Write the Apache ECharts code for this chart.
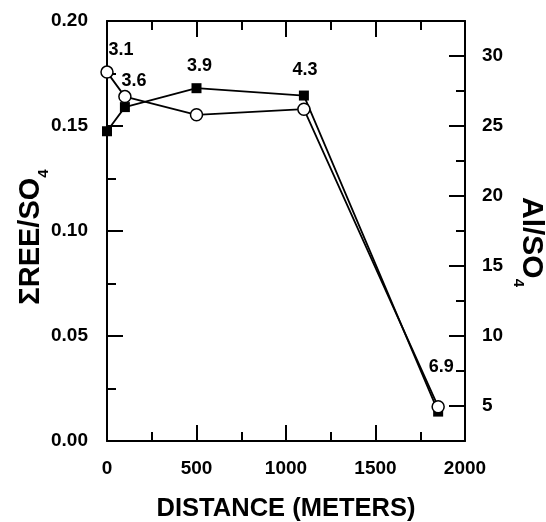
<!DOCTYPE html>
<html>
<head>
<meta charset="utf-8">
<title>REE and Al vs distance</title>
<script src="https://cdn.jsdelivr.net/npm/echarts@6/dist/echarts.min.js"></script>
<style>
  html, body { margin: 0; padding: 0; background: #fff; }
  #main { width: 546px; height: 522px; }
</style>
</head>
<body>
<div id="main"></div>
<script>
// distance along the stream (m)
var distance = [0, 100, 500, 1100, 1850];
// sum REE / SO4 (left axis, filled squares)
var reeSo4 = [0.1475, 0.159, 0.168, 0.1645, 0.014];
// Al / SO4 (right axis, open circles)
var alSo4 = [28.85, 27.1, 25.8, 26.2, 4.95];
// numbers printed next to the points
var pointNotes = ['3.1', '3.6', '3.9', '4.3', '6.9'];

var FONT = 'Liberation Sans, Arial, sans-serif';
var chart = echarts.init(document.getElementById('main'));

// where each note sits relative to its circle
var noteShift = [[14, -22], [9, -16], [3, -49], [1, -39], [3, -40]];

var tickStyle = { color: '#000', width: 2 };
var labelStyle = { color: '#000', fontFamily: FONT, fontWeight: 'bold', fontSize: 19 };

chart.setOption({
  animation: false,
  grid: { left: 107, right: 81, top: 21, bottom: 81, outerBoundsMode: 'none', containLabel: false },
  xAxis: [{
    type: 'value', min: 0, max: 2000, interval: 500, position: 'bottom',
    axisLine: { onZero: false, lineStyle: tickStyle },
    axisTick: { inside: true, length: 16, lineStyle: tickStyle },
    minorTick: { show: true, splitNumber: 2, length: 9, lineStyle: tickStyle },
    splitLine: { show: false },
    axisLabel: Object.assign({ margin: 18, formatter: function (v) { return String(v); } }, labelStyle),
    name: 'DISTANCE (METERS)', nameLocation: 'middle', nameGap: 55,
    nameTextStyle: { color: '#000', fontFamily: FONT, fontWeight: 'bold', fontSize: 25.5 }
  }, {
    type: 'value', min: 0, max: 2000, interval: 500, position: 'top',
    axisLine: { onZero: false, lineStyle: tickStyle },
    axisTick: { inside: true, length: 16, lineStyle: tickStyle },
    minorTick: { show: true, splitNumber: 2, length: 9, lineStyle: tickStyle },
    splitLine: { show: false },
    axisLabel: { show: false }
  }],
  yAxis: [{
    type: 'value', min: 0, max: 0.2, interval: 0.05, position: 'left',
    axisLine: { onZero: false, lineStyle: tickStyle },
    axisTick: { inside: true, length: 16, lineStyle: tickStyle },
    minorTick: { show: true, splitNumber: 2, length: 9, lineStyle: tickStyle },
    splitLine: { show: false },
    axisLabel: Object.assign({ margin: 19, formatter: function (v) { return v.toFixed(2); } }, labelStyle),
    name: '{m|ΣREE/SO}{s|4}', nameLocation: 'middle', nameGap: 56, nameMoveOverlap: false,
    nameTextStyle: {
      rich: {
        m: { color: '#000', fontFamily: FONT, fontWeight: 'bold', fontSize: 29, lineHeight: 40 },
        s: { color: '#000', fontFamily: FONT, fontWeight: 'bold', fontSize: 15, lineHeight: 15, verticalAlign: 'bottom', padding: [0, 12, 0, 0] }
      }
    }
  }, {
    // short ticks on the 2.5 offsets, long minor ticks on multiples of 5
    type: 'value', min: 2.5, max: 32.5, interval: 5, position: 'right',
    axisLine: { onZero: false, lineStyle: tickStyle },
    axisTick: { inside: true, length: 9, lineStyle: tickStyle },
    minorTick: { show: true, splitNumber: 2, length: 16, lineStyle: tickStyle },
    splitLine: { show: false },
    axisLabel: { show: false }
  }, {
    type: 'value', min: 2.5, max: 32.5, interval: 2.5, position: 'right',
    axisLine: { show: false, onZero: false }, axisTick: { show: false }, splitLine: { show: false },
    axisLabel: Object.assign({ margin: 17, formatter: function (v) { return v % 5 === 0 ? String(v) : ''; } }, labelStyle),
    name: '{m|Al/SO}{s|4}', nameLocation: 'middle', nameGap: 46, nameRotate: -90, nameMoveOverlap: false,
    nameTextStyle: {
      rich: {
        m: { color: '#000', fontFamily: FONT, fontWeight: 'bold', fontSize: 30, lineHeight: 40, padding: [0, 0, 0, 22] },
        s: { color: '#000', fontFamily: FONT, fontWeight: 'bold', fontSize: 15, lineHeight: 15, verticalAlign: 'bottom' }
      }
    }
  }],
  series: [{
    name: 'REE/SO4', type: 'line', xAxisIndex: 0, yAxisIndex: 0,
    data: distance.map(function (d, i) { return [d, reeSo4[i]]; }),
    symbol: 'rect', symbolSize: 10,
    itemStyle: { color: '#000' },
    lineStyle: { color: '#000', width: 1.8 }
  }, {
    name: 'Al/SO4', type: 'line', xAxisIndex: 0, yAxisIndex: 1,
    data: distance.map(function (d, i) {
      return {
        value: [d, alSo4[i]],
        label: { show: true, position: 'inside', offset: noteShift[i], formatter: pointNotes[i] }
      };
    }),
    symbol: 'circle', symbolSize: 12, showAllSymbol: true,
    itemStyle: { color: '#fff', borderColor: '#000', borderWidth: 1.5 },
    lineStyle: { color: '#000', width: 1.8 },
    label: { color: '#000', fontFamily: FONT, fontWeight: 'bold', fontSize: 18 }
  }]
});
</script>
</body>
</html>
